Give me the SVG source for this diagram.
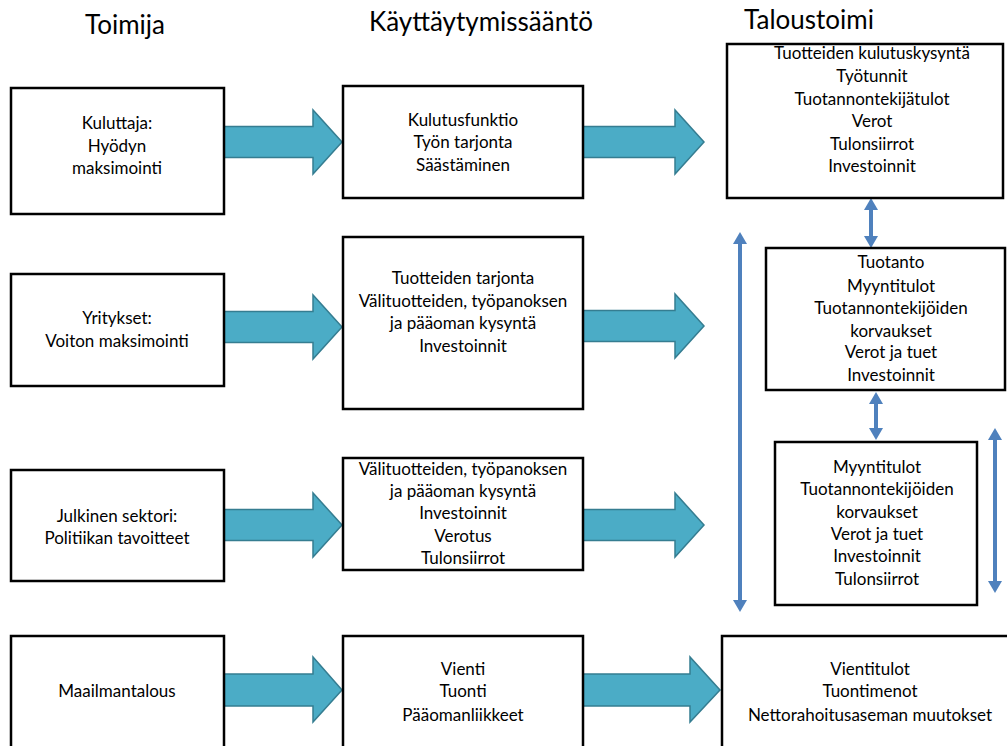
<svg xmlns="http://www.w3.org/2000/svg" width="1007" height="746" viewBox="0 0 1007 746">
  <style>
    .box { fill: #ffffff; stroke: #000000; stroke-width: 2.5; }
    .blk { fill: #4BACC6; stroke: #357D91; stroke-width: 1.5; stroke-linejoin: miter; }
    .dbl { stroke: #4F81BD; stroke-width: 4; fill: none; marker-start: url(#head); marker-end: url(#head); }
    text { font-family: Lato, "Liberation Sans", sans-serif; fill: #000000; text-anchor: middle; }
    .t { font-size: 17px; }
    .h { font-size: 26px; }
  </style>
  <defs>
    <marker id="head" viewBox="0 0 12 14" refX="0" refY="7" markerWidth="12" markerHeight="14" markerUnits="userSpaceOnUse" orient="auto-start-reverse">
      <path d="M0,0 L12,7 L0,14 Z" fill="#4F81BD"/>
    </marker>
  </defs>
  <rect x="0" y="0" width="1007" height="746" fill="#ffffff"/>

  <!-- column headings -->
  <g id="headings">
    <text class="h" x="125" y="34">Toimija</text>
    <text class="h" x="481" y="31">Käyttäytymissääntö</text>
    <text class="h" x="809" y="29">Taloustoimi</text>
  </g>

  <!-- connectors: block arrows and double-headed arrows -->
  <g id="connectors">
    <path class="blk" d="M224,126.5 H313 V110 L342,142 L313,174 V157.5 H224 Z"/>
    <path class="blk" d="M583,126.5 H675 V110 L704,142 L675,174 V157.5 H583 Z"/>
    <path class="blk" d="M224,311.5 H313 V295 L342,327 L313,359 V342.5 H224 Z"/>
    <path class="blk" d="M583,310.5 H675 V294 L704,326 L675,358 V341.5 H583 Z"/>
    <path class="blk" d="M224,509.5 H313 V493 L342,525 L313,557 V540.5 H224 Z"/>
    <path class="blk" d="M583,509.5 H675 V493 L704,525 L675,557 V540.5 H583 Z"/>
    <path class="blk" d="M224,674 H313 V657 L342,690 L313,722 V706 H224 Z"/>
    <path class="blk" d="M583,674 H690 V657 L720,690 L690,722 V706 H583 Z"/>

    <line class="dbl" x1="740" y1="244" x2="740" y2="600"/>
    <line class="dbl" x1="871" y1="210" x2="871" y2="236"/>
    <line class="dbl" x1="876" y1="404" x2="876" y2="428"/>
    <line class="dbl" x1="995" y1="440" x2="995" y2="581"/>
  </g>

  <!-- actors -->
  <g id="kuluttaja">
    <rect class="box" x="11" y="88" width="213" height="126"/>
    <text class="t" x="117" y="129">Kuluttaja:</text>
    <text class="t" x="117" y="152">Hyödyn</text>
    <text class="t" x="117" y="174">maksimointi</text>
  </g>
  <g id="yritykset">
    <rect class="box" x="11" y="274" width="213" height="112"/>
    <text class="t" x="117" y="324">Yritykset:</text>
    <text class="t" x="117" y="347">Voiton maksimointi</text>
  </g>
  <g id="julkinen">
    <rect class="box" x="11" y="470" width="213" height="111"/>
    <text class="t" x="117" y="522">Julkinen sektori:</text>
    <text class="t" x="117" y="544">Politiikan tavoitteet</text>
  </g>
  <g id="maailmantalous">
    <rect class="box" x="11" y="636" width="213" height="120"/>
    <text class="t" x="117" y="697">Maailmantalous</text>
  </g>

  <!-- behaviour rules -->
  <g id="saanto-kuluttaja">
    <rect class="box" x="343" y="86" width="240" height="112"/>
    <text class="t" x="463" y="126">Kulutusfunktio</text>
    <text class="t" x="463" y="148">Työn tarjonta</text>
    <text class="t" x="463" y="171">Säästäminen</text>
  </g>
  <g id="saanto-yritykset">
    <rect class="box" x="343" y="237" width="240" height="172"/>
    <text class="t" x="463" y="284">Tuotteiden tarjonta</text>
    <text class="t" x="463" y="307">Välituotteiden, työpanoksen</text>
    <text class="t" x="463" y="329">ja pääoman kysyntä</text>
    <text class="t" x="463" y="352">Investoinnit</text>
  </g>
  <g id="saanto-julkinen">
    <rect class="box" x="343" y="458" width="240" height="112"/>
    <text class="t" x="463" y="475">Välituotteiden, työpanoksen</text>
    <text class="t" x="463" y="497">ja pääoman kysyntä</text>
    <text class="t" x="463" y="519">Investoinnit</text>
    <text class="t" x="463" y="542">Verotus</text>
    <text class="t" x="463" y="564">Tulonsiirrot</text>
  </g>
  <g id="saanto-maailma">
    <rect class="box" x="343" y="636" width="240" height="120"/>
    <text class="t" x="463" y="675">Vienti</text>
    <text class="t" x="463" y="697">Tuonti</text>
    <text class="t" x="463" y="721">Pääomanliikkeet</text>
  </g>

  <!-- economic activity -->
  <g id="talous-kotitaloudet">
    <rect class="box" x="727" y="44" width="276" height="154"/>
    <text class="t" x="872" y="59">Tuotteiden kulutuskysyntä</text>
    <text class="t" x="872" y="82">Työtunnit</text>
    <text class="t" x="872" y="105">Tuotannontekijätulot</text>
    <text class="t" x="872" y="127">Verot</text>
    <text class="t" x="872" y="150">Tulonsiirrot</text>
    <text class="t" x="872" y="172">Investoinnit</text>
  </g>
  <g id="talous-yritykset">
    <rect class="box" x="766" y="248" width="239" height="142"/>
    <text class="t" x="891" y="268">Tuotanto</text>
    <text class="t" x="891" y="292">Myyntitulot</text>
    <text class="t" x="891" y="314">Tuotannontekijöiden</text>
    <text class="t" x="891" y="337">korvaukset</text>
    <text class="t" x="891" y="358">Verot ja tuet</text>
    <text class="t" x="891" y="381">Investoinnit</text>
  </g>
  <g id="talous-julkinen">
    <rect class="box" x="775" y="442" width="202" height="163"/>
    <text class="t" x="877" y="473">Myyntitulot</text>
    <text class="t" x="877" y="495">Tuotannontekijöiden</text>
    <text class="t" x="877" y="518">korvaukset</text>
    <text class="t" x="877" y="540">Verot ja tuet</text>
    <text class="t" x="877" y="562">Investoinnit</text>
    <text class="t" x="877" y="585">Tulonsiirrot</text>
  </g>
  <g id="talous-ulkomaat">
    <rect class="box" x="722" y="636" width="290" height="120"/>
    <text class="t" x="870" y="675">Vientitulot</text>
    <text class="t" x="870" y="697">Tuontimenot</text>
    <text class="t" x="870" y="721">Nettorahoitusaseman muutokset</text>
  </g>
</svg>
